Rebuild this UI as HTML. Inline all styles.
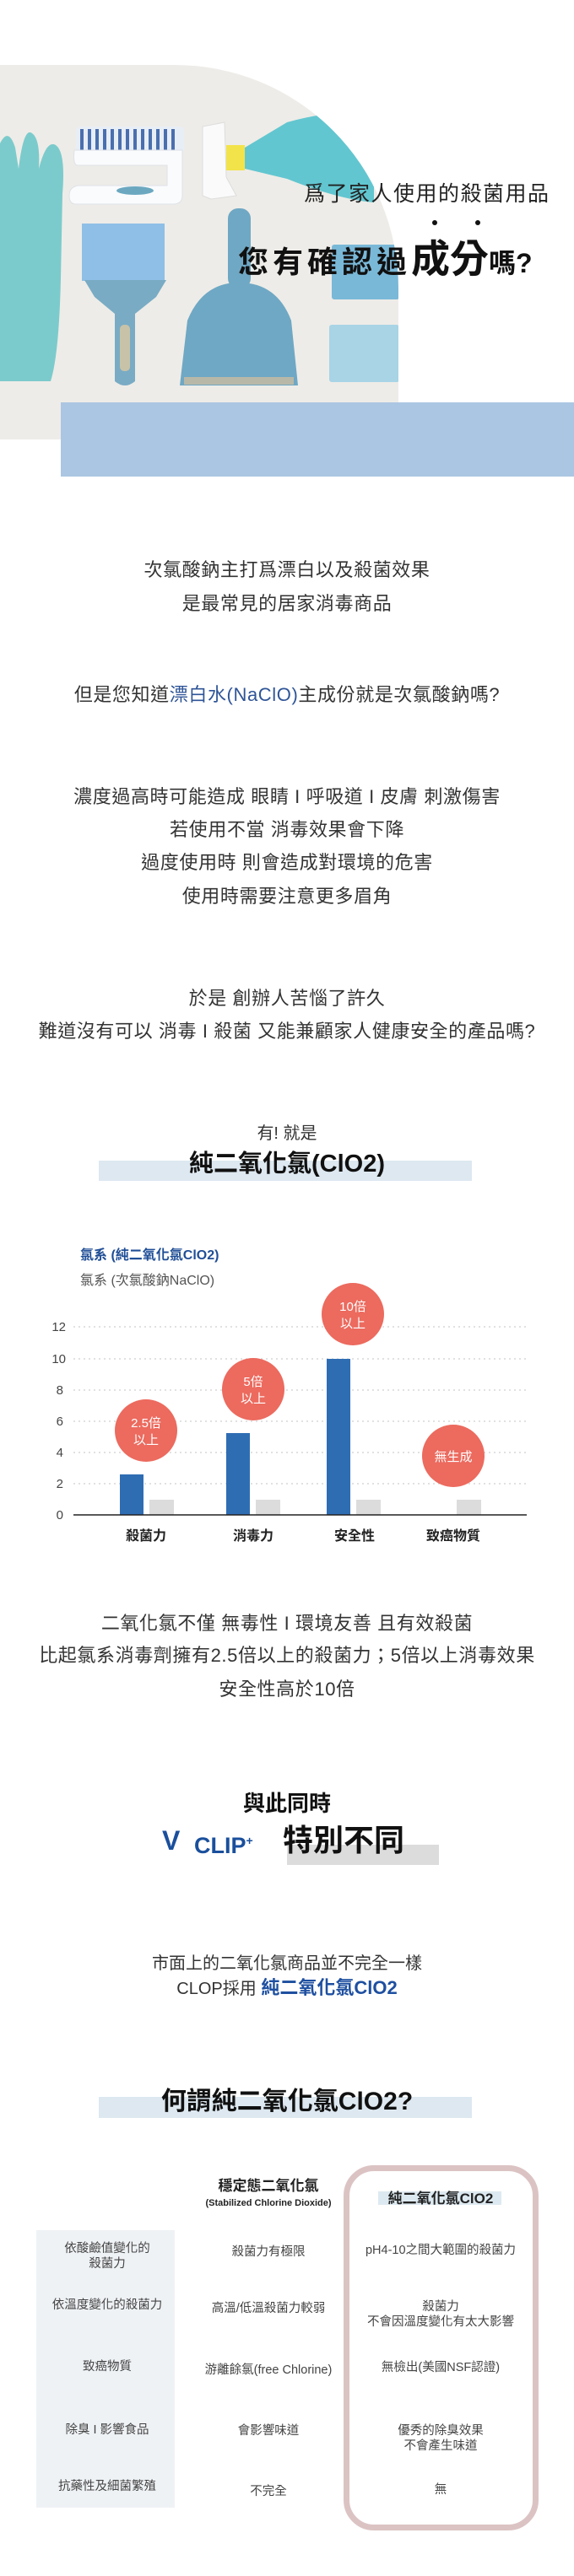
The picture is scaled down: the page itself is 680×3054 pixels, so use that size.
<!DOCTYPE html>
<html><head><meta charset="utf-8">
<style>
*{margin:0;padding:0;box-sizing:border-box}
body{width:680px;height:3054px;position:relative;background:#fff;font-family:"Liberation Sans","Noto Sans CJK TC",sans-serif;color:#333;overflow:hidden}
.a{position:absolute}
.c{position:absolute;left:0;width:680px;text-align:center;white-space:nowrap}
.p{font-size:22px;height:32px;line-height:32px;letter-spacing:0.6px;color:#333}
.t{position:absolute;width:200px;text-align:center;font-size:14.5px;color:#444;line-height:18px;white-space:nowrap}
</style></head><body>

<svg class="a" style="left:0;top:0" width="680" height="600" viewBox="0 0 680 600">
<defs><clipPath id="ph"><path d="M0 77 H207 A265 265 0 0 1 472 342 V521 H0 Z"/></clipPath></defs>
<g clip-path="url(#ph)">
<rect x="0" y="77" width="472" height="444" fill="#eeece8"/>
<path d="M0 170 Q10 150 18 175 L22 200 Q28 150 38 158 Q48 165 46 200 Q55 165 66 172 Q78 180 74 230 L72 330 Q70 420 60 452 L0 452 Z" fill="#7ccbcc"/>
<rect x="90" y="150" width="128" height="32" rx="6" fill="#e8eef6"/>
<g fill="#4a6fae"><rect x="95" y="153" width="4" height="26"/><rect x="104" y="153" width="4" height="26"/><rect x="113" y="153" width="4" height="26"/><rect x="122" y="153" width="4" height="26"/><rect x="131" y="153" width="4" height="26"/><rect x="140" y="153" width="4" height="26"/><rect x="149" y="153" width="4" height="26"/><rect x="158" y="153" width="4" height="26"/><rect x="167" y="153" width="4" height="26"/><rect x="176" y="153" width="4" height="26"/><rect x="185" y="153" width="4" height="26"/><rect x="194" y="153" width="4" height="26"/><rect x="203" y="153" width="4" height="26"/></g>
<path d="M88 178 H216 V232 Q216 242 205 242 H90 Q82 242 82 232 Q82 222 92 220 H198 V196 H92 Q86 196 88 178 Z" fill="#fafbfc" stroke="#dde2e8"/>
<ellipse cx="160" cy="226" rx="22" ry="5" fill="#6ba8c0"/>
<path d="M240 150 L266 145 L268 210 L280 232 L250 236 L240 232 Z" fill="#fafafa" stroke="#ddd"/>
<rect x="268" y="172" width="22" height="30" fill="#f2e34a"/>
<path d="M290 175 L340 145 Q400 128 443 137 L443 240 Q400 236 340 212 L290 200 Z" fill="#62c6d0"/>
<rect x="97" y="265" width="98" height="68" fill="#8fbfe6"/>
<path d="M100 332 H197 L185 352 L160 372 V452 Q148 462 136 452 V372 L112 352 Z" fill="#79abc4"/>
<rect x="142" y="385" width="12" height="55" rx="5" fill="#c8c2a8"/>
<rect x="270" y="247" width="27" height="95" rx="12" fill="#6fa8c4"/>
<path d="M213 457 L222 380 Q240 335 283 335 Q328 335 345 380 L353 457 Z" fill="#6fa8c4"/>
<rect x="218" y="447" width="130" height="9" fill="#b8b8a8"/>
<rect x="393" y="290" width="80" height="65" rx="3" fill="#7ab8d8"/>
<rect x="390" y="385" width="83" height="68" rx="3" fill="#a8d4e6"/>
</g>
<rect x="72" y="477" width="608" height="88" fill="#abc6e2"/>
<circle cx="515" cy="264" r="3" fill="#111"/>
<circle cx="566" cy="264" r="3" fill="#111"/>
</svg>

<div class="a" style="left:360px;top:214px;font-size:25px;letter-spacing:1.5px;color:#222;white-space:nowrap;line-height:32px">爲了家人使用的殺菌用品</div>
<div class="a" style="left:282px;top:282px;white-space:nowrap;font-weight:bold;color:#111;line-height:50px"><span style="font-size:36px;letter-spacing:5px">您有確認過</span><span style="font-size:46px">成分</span><span style="font-size:32px">嗎?</span></div>

<div class="c p" style="top:660px">次氯酸鈉主打爲漂白以及殺菌效果</div>
<div class="c p" style="top:700px">是最常見的居家消毒商品</div>
<div class="c p" style="top:808px">但是您知道<span style="color:#2f5597">漂白水(NaClO)</span>主成份就是次氯酸鈉嗎?</div>
<div class="c p" style="top:929px">濃度過高時可能造成 眼睛 I 呼吸道 I 皮膚 刺激傷害</div>
<div class="c p" style="top:968px">若使用不當 消毒效果會下降</div>
<div class="c p" style="top:1007px">過度使用時 則會造成對環境的危害</div>
<div class="c p" style="top:1047px">使用時需要注意更多眉角</div>
<div class="c p" style="top:1168px">於是 創辦人苦惱了許久</div>
<div class="c p" style="top:1207px">難道沒有可以 消毒 I 殺菌 又能兼顧家人健康安全的產品嗎?</div>
<div class="c" style="top:1330px;font-size:20px;line-height:28px;color:#333">有! 就是</div>
<div class="a" style="left:117px;top:1376px;width:442px;height:24px;background:#dde8f0"></div>
<div class="c" style="top:1360px;font-size:29px;line-height:40px;font-weight:bold;color:#111">純二氧化氯(ClO2)</div>

<div class="a" style="left:95px;top:1478px;font-size:16px;font-weight:bold;color:#1f4e96;white-space:nowrap;line-height:22px">氯系 (純二氧化氯ClO2)</div>
<div class="a" style="left:95px;top:1508px;font-size:16px;color:#555;white-space:nowrap;line-height:22px">氯系 (次氯酸鈉NaClO)</div>
<svg class="a" style="left:0;top:1500px" width="680" height="350" viewBox="0 1500 680 350" font-family="Liberation Sans, Noto Sans CJK TC, sans-serif">
<g stroke="#cfcfcf" stroke-width="1.2" stroke-dasharray="2 4">
<line x1="87" y1="1573" x2="624" y2="1573"/><line x1="87" y1="1611" x2="624" y2="1611"/><line x1="87" y1="1648" x2="624" y2="1648"/><line x1="87" y1="1685" x2="624" y2="1685"/><line x1="87" y1="1722" x2="624" y2="1722"/><line x1="87" y1="1759" x2="624" y2="1759"/>
</g>
<g font-size="15" fill="#444" text-anchor="end">
<text x="78" y="1578">12</text><text x="78" y="1616">10</text><text x="75" y="1653">8</text><text x="75" y="1690">6</text><text x="75" y="1727">4</text><text x="75" y="1764">2</text><text x="75" y="1801">0</text>
</g>
<g fill="#2f6db3">
<rect x="142" y="1748" width="28" height="48"/><rect x="268" y="1699" width="28" height="97"/><rect x="387" y="1611" width="28" height="185"/>
</g>
<g fill="#dcdcdc">
<rect x="177" y="1778" width="29" height="18"/><rect x="303" y="1778" width="29" height="18"/><rect x="422" y="1778" width="29" height="18"/><rect x="541" y="1778" width="29" height="18"/>
</g>
<line x1="87" y1="1796" x2="624" y2="1796" stroke="#222" stroke-width="1.5"/>
<g fill="#ec6a5e"><circle cx="173" cy="1696" r="37"/><circle cx="300" cy="1647" r="37"/><circle cx="418" cy="1558" r="37"/><circle cx="537" cy="1726" r="37"/></g>
<g fill="#fff" font-size="15" text-anchor="middle">
<text x="173" y="1692">2.5倍</text><text x="173" y="1712">以上</text>
<text x="300" y="1643">5倍</text><text x="300" y="1663">以上</text>
<text x="418" y="1554">10倍</text><text x="418" y="1574">以上</text>
<text x="537" y="1732">無生成</text>
</g>
<g fill="#222" font-size="16" text-anchor="middle" font-weight="bold">
<text x="173" y="1826">殺菌力</text><text x="300" y="1826">消毒力</text><text x="420" y="1826">安全性</text><text x="537" y="1826">致癌物質</text>
</g>
</svg>

<div class="c p" style="top:1909px">二氧化氯不僅 無毒性 I 環境友善 且有效殺菌</div>
<div class="c p" style="top:1947px">比起氯系消毒劑擁有2.5倍以上的殺菌力；5倍以上消毒效果</div>
<div class="c p" style="top:1987px">安全性高於10倍</div>

<div class="c" style="top:2122px;font-size:26px;line-height:32px;font-weight:bold;color:#111">與此同時</div>
<div class="a" style="left:340px;top:2187px;width:180px;height:24px;background:#dcdcdc"></div>
<div class="a" style="left:192px;top:2162px;font-size:32px;color:#1a4f9c;font-weight:bold;line-height:40px">V</div>
<div class="a" style="left:230px;top:2164px;font-size:27px;color:#1a4f9c;font-weight:bold;line-height:36px;white-space:nowrap">CLIP<sup style="font-size:14px">+</sup></div>
<div class="a" style="left:335px;top:2160px;font-size:36px;font-weight:bold;color:#111;line-height:44px;white-space:nowrap">特別不同</div>

<div class="c" style="top:2314px;font-size:20px;line-height:28px;color:#333">市面上的二氧化氯商品並不完全一樣</div>
<div class="c" style="top:2343px;font-size:20px;line-height:28px;color:#333">CLOP採用 <b style="color:#1e4fa0;font-size:22px">純二氧化氯ClO2</b></div>

<div class="a" style="left:117px;top:2486px;width:442px;height:25px;background:#dde8f0"></div>
<div class="c" style="top:2472px;font-size:30px;line-height:40px;font-weight:bold;color:#111">何謂純二氧化氯ClO2?</div>

<div class="a" style="left:43px;top:2644px;width:164px;height:329px;background:#eff2f5"></div>
<div class="a" style="left:407px;top:2567px;width:231px;height:433px;border:7px solid #dcc3c3;border-radius:36px"></div>
<div class="a" style="left:448px;top:2598px;width:146px;height:16px;background:#dde9f0"></div>
<div class="a" style="left:218px;top:2580px;width:200px;text-align:center;font-size:17px;font-weight:bold;color:#222;line-height:24px">穩定態二氧化氯</div>
<div class="a" style="left:208px;top:2604px;width:220px;text-align:center;font-size:11px;font-weight:bold;color:#222;line-height:16px">(Stabilized Chlorine Dioxide)</div>
<div class="a" style="left:422px;top:2594px;width:200px;text-align:center;font-size:17px;font-weight:bold;color:#222;line-height:26px">純二氧化氯ClO2</div>

<div class="t" style="left:27px;top:2657px">依酸鹼值變化的<br>殺菌力</div>
<div class="t" style="left:218px;top:2661px">殺菌力有極限</div>
<div class="t" style="left:422px;top:2659px">pH4-10之間大範圍的殺菌力</div>
<div class="t" style="left:27px;top:2724px">依溫度變化的殺菌力</div>
<div class="t" style="left:218px;top:2728px">高溫/低溫殺菌力較弱</div>
<div class="t" style="left:422px;top:2726px">殺菌力<br>不會因溫度變化有太大影響</div>
<div class="t" style="left:27px;top:2797px">致癌物質</div>
<div class="t" style="left:218px;top:2801px">游離餘氯(free Chlorine)</div>
<div class="t" style="left:422px;top:2798px">無檢出(美國NSF認證)</div>
<div class="t" style="left:27px;top:2872px">除臭 I 影響食品</div>
<div class="t" style="left:218px;top:2873px">會影響味道</div>
<div class="t" style="left:422px;top:2873px">優秀的除臭效果<br>不會產生味道</div>
<div class="t" style="left:27px;top:2939px">抗藥性及細菌繁殖</div>
<div class="t" style="left:218px;top:2945px">不完全</div>
<div class="t" style="left:422px;top:2943px">無</div>
</body></html>
